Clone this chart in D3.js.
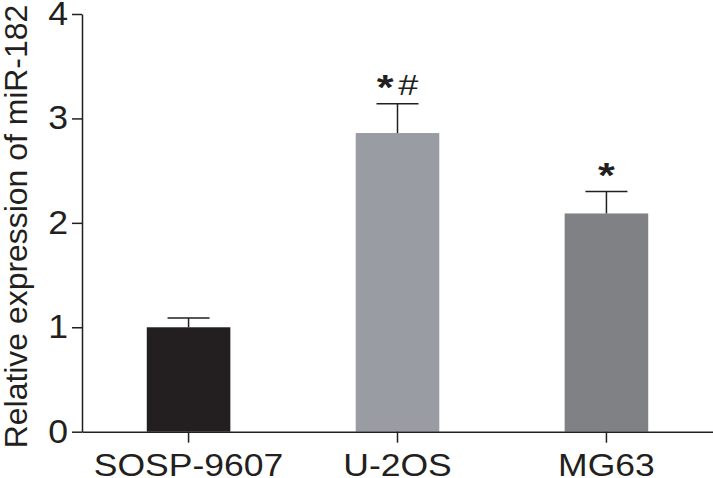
<!DOCTYPE html>
<meta charset="utf-8">
<style>
body { margin: 0; background: #fff; }
text { font-family: "Liberation Sans", Arial, sans-serif; fill: #231f20; }
.axis path, .axis line { stroke: #231f20; stroke-width: 1.5px; }
</style>
<body>
<script src="https://d3js.org/d3.v7.min.js"></script>
<script>

var categories = ["SOSP-9607", "U-2OS", "MG63"];
var means = [1.0, 2.86, 2.09];
var errors = [0.09, 0.28, 0.21];
var marks = ["", "*#", "*"];
var yTicks = [0, 1, 2, 3, 4];
var colors = ["#231f20", "#9a9ca3", "#808184"];

var width = 713,
    height = 478,
    stretch = 1.11;

var svg = d3.select("body").append("svg")
    .attr("width", width)
    .attr("height", height);

var x = d3.scaleBand()
    .domain(categories)
    .range([82, 713])
    .paddingInner(0.6)
    .paddingOuter(0.31);

var y = d3.scaleLinear()
    .domain([0, 4])
    .range([431.7, 14]);

var color = d3.scaleOrdinal().domain(categories).range(colors);

var data = categories.map(function(c, i) {
  return {name: c, mean: means[i], err: errors[i], mark: marks[i]};
});

// bars
svg.append("g").selectAll("rect")
    .data(data)
  .enter().append("rect")
    .attr("x", function(d) { return x(d.name); })
    .attr("y", function(d) { return y(d.mean); })
    .attr("width", x.bandwidth())
    .attr("height", function(d) { return y(0) - y(d.mean); })
    .attr("fill", function(d) { return color(d.name); });

// error bars (upper only)
var eb = svg.append("g")
    .attr("stroke", "#231f20")
    .attr("stroke-width", 1.5);

eb.selectAll(".stem")
    .data(data)
  .enter().append("line")
    .attr("x1", function(d) { return x(d.name) + x.bandwidth() / 2; })
    .attr("x2", function(d) { return x(d.name) + x.bandwidth() / 2; })
    .attr("y1", function(d) { return y(d.mean); })
    .attr("y2", function(d) { return y(d.mean + d.err); });

eb.selectAll(".cap")
    .data(data)
  .enter().append("line")
    .attr("x1", function(d) { return x(d.name) + x.bandwidth() / 2 - 21; })
    .attr("x2", function(d) { return x(d.name) + x.bandwidth() / 2 + 21; })
    .attr("y1", function(d) { return y(d.mean + d.err); })
    .attr("y2", function(d) { return y(d.mean + d.err); });

// significance marks
var mk = svg.append("g").selectAll("text")
    .data(data.filter(function(d) { return d.mark; }))
  .enter().append("text")
    .attr("text-anchor", "middle")
    .attr("transform", function(d) {
      return "translate(" + (x(d.name) + x.bandwidth() / 2) + "," + (y(d.mean + d.err) - 5) + ") scale(1.2,1)";
    });

mk.append("tspan")
    .style("font-size", "36px")
    .style("font-weight", "bold")
    .text("*");

mk.filter(function(d) { return d.mark.length > 1; })
  .append("tspan")
    .attr("dx", 4)
    .attr("dy", -4)
    .style("font-size", "30px")
    .text(function(d) { return d.mark.slice(1); });

// y axis
var yAxis = svg.append("g")
    .attr("class", "axis")
    .attr("transform", "translate(82,0)")
    .call(d3.axisLeft(y).tickValues(yTicks).tickFormat(d3.format("d"))
      .tickSize(10).tickSizeOuter(0).tickPadding(4));

yAxis.selectAll("text")
    .style("font-size", "33px")
    .attr("fill", "#231f20")
    .attr("transform", function() {
      return "translate(" + this.getAttribute("x") + ",0) scale(1.08,1)";
    })
    .attr("x", 0);

// x axis
var xAxis = svg.append("g")
    .attr("class", "axis")
    .attr("transform", "translate(0," + y(0) + ")")
    .call(d3.axisBottom(x).tickSize(11).tickSizeOuter(0).tickPadding(11));

xAxis.selectAll("text")
    .style("font-size", "32px")
    .attr("fill", "#231f20")
    .attr("transform", function() {
      return "translate(0," + this.getAttribute("y") + ") scale(" + stretch + ",1)";
    })
    .attr("y", 0);

// y label
svg.append("text")
    .attr("text-anchor", "middle")
    .attr("transform", "translate(27,226.5) rotate(-90) scale(1.03,1)")
    .style("font-size", "31px")
    .text("Relative expression of miR-182");

</script>
